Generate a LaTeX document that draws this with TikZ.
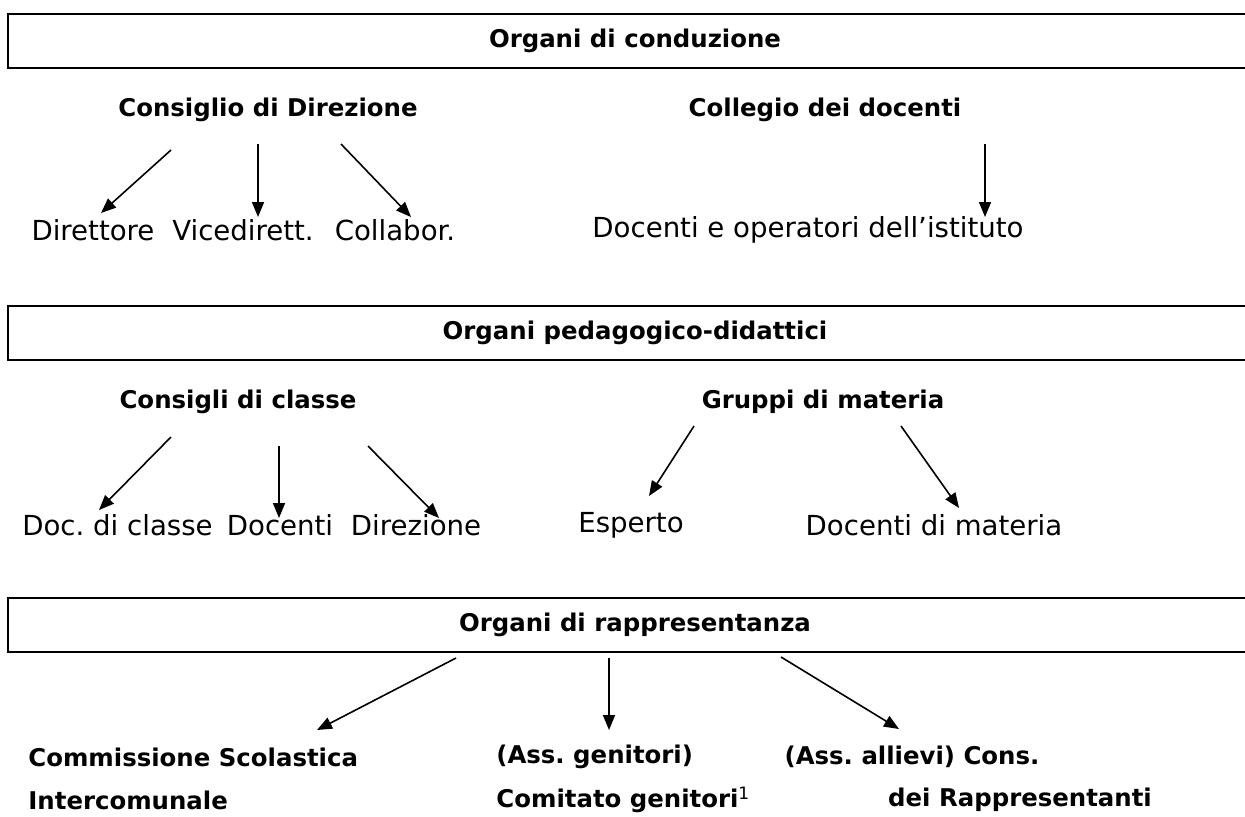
\documentclass[tikz,border=0pt]{standalone}
\usepackage{fontspec}
\setmainfont{DejaVu Sans}
\usetikzlibrary{arrows.meta}
\frenchspacing
\tikzset{
  hdrbox/.style={draw, line width=1.3pt, minimum width=627pt, minimum height=27pt, inner sep=0pt, font=\fontsize{12.2}{14}\selectfont\bfseries},
  bt/.style={inner sep=0pt, font=\fontsize{12.2}{14}\selectfont\bfseries},
  rt/.style={inner sep=0pt, font=\fontsize{13.8}{16}\selectfont},
  arr/.style={line width=0.8pt, -{Triangle[length=7.5pt,width=6pt]}}
}
\begin{document}
\begin{tikzpicture}[x=0.5pt,y=-0.5pt]
\useasboundingbox (0,0) rectangle (1245,816);
% section 1
\node[hdrbox] (b1) at (635,41) {Organi di conduzione};
\node[bt] (cdir) at (268,110) {Consiglio di Direzione};
\node[bt] (coll) at (825,110) {Collegio dei docenti};
\node[rt] (dir) at (93,230) {Direttore};
\node[rt] (vic) at (243,230) {Vicedirett.};
\node[rt] (colb) at (395,230) {Collabor.};
\node[rt] (doc) at (808,230) {Docenti e operatori dell’istituto};
\coordinate (a1s) at (171,150); \coordinate (a1e) at (101,213);
\coordinate (a2s) at (258,144); \coordinate (a2e) at (258,217);
\coordinate (a3s) at (341,144); \coordinate (a3e) at (411,217);
\coordinate (a4s) at (985,144); \coordinate (a4e) at (985,217);
\draw[arr] (a1s) -- (a1e);
\draw[arr] (a2s) -- (a2e);
\draw[arr] (a3s) -- (a3e);
\draw[arr] (a4s) -- (a4e);
% section 2
\node[hdrbox] (b2) at (635,333) {Organi pedagogico-didattici};
\node[bt] (ccl) at (238,402) {Consigli di classe};
\node[bt] (gm) at (823,402) {Gruppi di materia};
\node[rt] (dcl) at (117.5,525) {Doc. di classe};
\node[rt] (dcs) at (280,525) {Docenti};
\node[rt] (dzn) at (416,525) {Direzione};
\node[rt] (esp) at (631,525) {Esperto};
\node[rt] (dm) at (934,525) {Docenti di materia};
\coordinate (b1s) at (171,437); \coordinate (b1e) at (99,510);
\coordinate (b2s) at (279,446); \coordinate (b2e) at (279,518);
\coordinate (b3s) at (368,446); \coordinate (b3e) at (439,518);
\coordinate (b4s) at (694,426); \coordinate (b4e) at (649,496);
\coordinate (b5s) at (901,426); \coordinate (b5e) at (959,508);
\draw[arr] (b1s) -- (b1e);
\draw[arr] (b2s) -- (b2e);
\draw[arr] (b3s) -- (b3e);
\draw[arr] (b4s) -- (b4e);
\draw[arr] (b5s) -- (b5e);
% section 3
\node[hdrbox] (b3) at (635,625) {Organi di rappresentanza};
\node[bt, anchor=west] (csc) at (28,757) {Commissione Scolastica};
\node[bt, anchor=west] (ic) at (28,800) {Intercomunale};
\node[bt, anchor=west] (ag) at (496,757) {(Ass. genitori)};
\node[bt, anchor=west] (cg) at (496,800) {Comitato genitori\textsuperscript{\mdseries 1}};
\node[bt] (aa) at (912,757) {(Ass. allievi) Cons.};
\node[bt] (dr) at (1020,800) {dei Rappresentanti};
\coordinate (c1s) at (456,658); \coordinate (c1e) at (317,730);
\coordinate (c2s) at (609,658); \coordinate (c2e) at (609,730);
\coordinate (c3s) at (781,657); \coordinate (c3e) at (899,729);
\draw[arr] (c1s) -- (c1e);
\draw[arr] (c2s) -- (c2e);
\draw[arr] (c3s) -- (c3e);
\end{tikzpicture}
\end{document}
